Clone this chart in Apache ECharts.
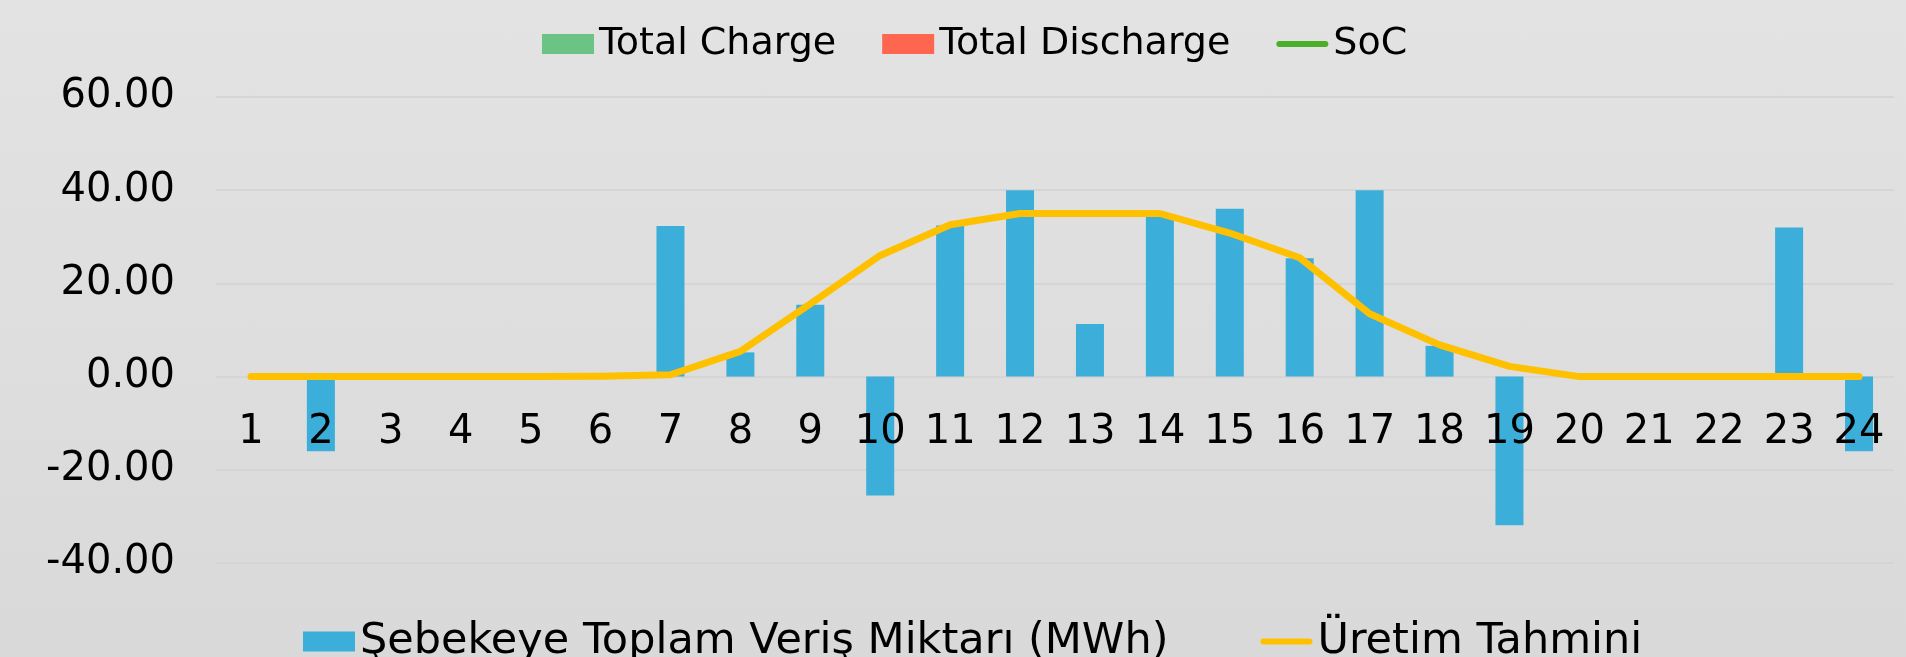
<!DOCTYPE html>
<html>
<head>
<meta charset="utf-8">
<script src="https://cdn.jsdelivr.net/npm/echarts@6/dist/echarts.min.js"></script>
<style>
  html, body { margin: 0; padding: 0; }
  #chart { width: 1906px; height: 657px; background: linear-gradient(#e3e3e3, #d9d9d9); }
</style>
</head>
<body>
<div id="chart"></div>
<script>
const hours = ['1','2','3','4','5','6','7','8','9','10','11','12','13','14','15','16','17','18','19','20','21','22','23','24'];
const totalCharge = [];
const totalDischarge = [];
const soc = [];
const sebekeVeris = [0, -16.0, 0, 0, 0, 0, 32.3, 5.2, 15.4, -25.5, 32.4, 40.0, 11.3, 34.7, 36.0, 25.4, 40.0, 6.6, -31.9, 0, 0, 0, 32.0, -16.0];
const uretimTahmini = [0, 0, 0, 0, 0, 0.1, 0.4, 5.4, 15.6, 26.0, 32.6, 35.0, 35.0, 35.0, 30.8, 25.5, 13.5, 6.8, 2.2, 0, 0, 0, 0, 0];

const FONT = '"DejaVu Sans", sans-serif';
// thick line legend icon, padded to the 52x20 item box
const LINE_ICON = 'path://M0,0 M3,7 L49,7 A3,3 0 0 1 49,13 L3,13 A3,3 0 0 1 3,7 Z M52,20';

const chart = echarts.init(document.getElementById('chart'));

chart.setOption({
  backgroundColor: 'transparent',
  textStyle: { fontFamily: FONT, color: '#000' },
  legend: [
    {
      data: [
        { name: 'Total Charge', icon: 'rect' },
        { name: 'Total Discharge', icon: 'rect' },
        { name: 'SoC', icon: LINE_ICON }
      ],
      left: 537, top: 20,
      itemWidth: 52, itemHeight: 20, itemGap: 46,
      textStyle: { fontSize: 38, color: '#000', fontFamily: FONT }
    },
    {
      data: [
        { name: 'Şebekeye Toplam Veriş Miktarı (MWh)', icon: 'rect' },
        { name: 'Üretim Tahmini', icon: LINE_ICON }
      ],
      left: 298, top: 615,
      itemWidth: 52, itemHeight: 20, itemGap: 92,
      textStyle: { fontSize: 43, color: '#000', fontFamily: FONT }
    }
  ],
  grid: { left: 216, right: 12, top: 97, bottom: 94 },
  xAxis: {
    type: 'category',
    data: hours,
    offset: -186,
    z: 10,
    axisLine: { show: false },
    axisTick: { show: false },
    axisLabel: { fontSize: 40, color: '#000', margin: 36, fontFamily: FONT }
  },
  yAxis: {
    type: 'value',
    min: -40, max: 60, interval: 20,
    axisLine: { show: false },
    axisTick: { show: false },
    splitLine: { lineStyle: { color: '#d5d5d5', width: 2 } },
    axisLabel: {
      fontSize: 40, color: '#000', margin: 41, fontFamily: FONT,
      formatter: v => v.toFixed(2)
    }
  },
  series: [
    { name: 'Total Charge', type: 'bar', data: totalCharge, barWidth: 28, barGap: '-100%', itemStyle: { color: '#6cc484' } },
    { name: 'Total Discharge', type: 'bar', data: totalDischarge, barWidth: 28, barGap: '-100%', itemStyle: { color: '#ff6650' } },
    { name: 'SoC', type: 'line', data: soc, symbol: 'none', lineStyle: { color: '#4caf2a', width: 6 }, itemStyle: { color: '#4caf2a' } },
    {
      name: 'Şebekeye Toplam Veriş Miktarı (MWh)', type: 'bar', data: sebekeVeris,
      barWidth: 28, barGap: '-100%',
      itemStyle: { color: '#3caeda' }
    },
    {
      name: 'Üretim Tahmini', type: 'line', data: uretimTahmini,
      symbol: 'none', z: 5,
      lineStyle: { color: '#ffc000', width: 7, cap: 'round', join: 'round' },
      itemStyle: { color: '#ffc000' }
    }
  ]
});
</script>
</body>
</html>
